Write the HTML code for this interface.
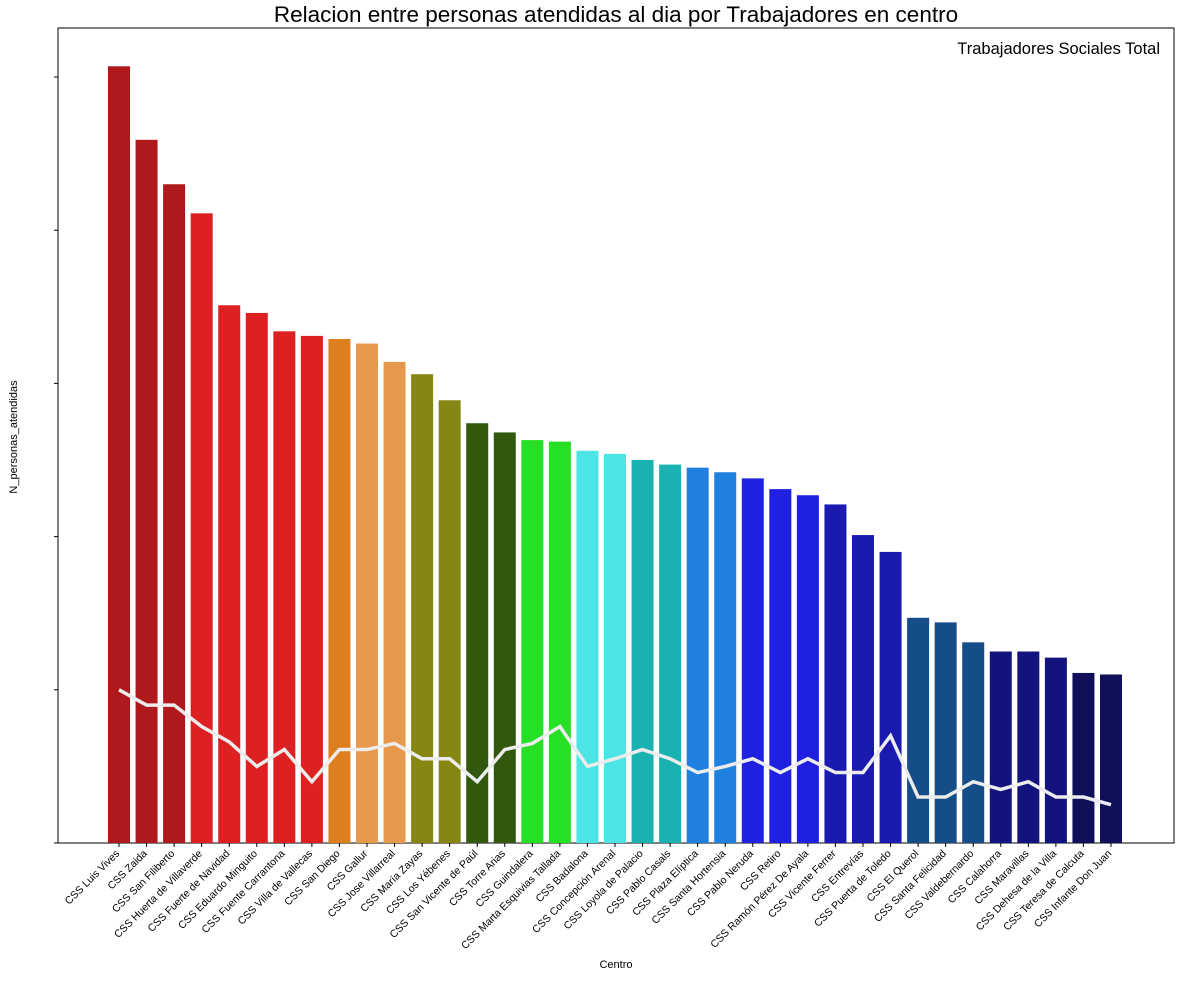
<!DOCTYPE html>
<html><head><meta charset="utf-8"><style>
body{margin:0;background:#fff;font-family:"Liberation Sans",sans-serif}
</style></head><body>
<svg id="chart" width="1180" height="977" xmlns="http://www.w3.org/2000/svg" font-family="Liberation Sans, sans-serif">
<text x="616" y="22" text-anchor="middle" font-size="22.5">Relacion entre personas atendidas al dia por Trabajadores en centro</text>
<rect x="58" y="28" width="1116" height="815" fill="none" stroke="#000" stroke-width="1"/>
<g id="bars"></g><g id="xt"></g><g id="yt"></g>
<text x="1160" y="54" text-anchor="end" font-size="16.5">Trabajadores Sociales Total</text>
<text transform="translate(17,437) rotate(-90)" text-anchor="middle" font-size="11">N_personas_atendidas</text>
<text x="616" y="968" text-anchor="middle" font-size="11">Centro</text>
</svg>
<script>
const categories=["CSS Luis Vives","CSS Zaida","CSS San Filiberto","CSS Huerta de Villaverde","CSS Fuerte de Navidad","CSS Eduardo Minguito","CSS Fuente Carrantona","CSS Villa de Vallecas","CSS San Diego","CSS Gallur","CSS Jose Villarreal","CSS María Zayas","CSS Los Yébenes","CSS San Vicente de Paúl","CSS Torre Arias","CSS Guindalera","CSS Marta Esquivias Tallada","CSS Badalona","CSS Concepción Arenal","CSS Loyola de Palacio","CSS Pablo Casals","CSS Plaza Elíptica","CSS Santa Hortensia","CSS Pablo Neruda","CSS Retiro","CSS Ramón Pérez De Ayala","CSS Vicente Ferrer","CSS Entrevías","CSS Puerta de Toledo","CSS El Querol","CSS Santa Felicidad","CSS Valdebernardo","CSS Calahorra","CSS Maravillas","CSS Dehesa de la Villa","CSS Teresa de Calcuta","CSS Infante Don Juan"];
const personas=[5.07,4.59,4.30,4.11,3.51,3.46,3.34,3.31,3.29,3.26,3.14,3.06,2.89,2.74,2.68,2.63,2.62,2.56,2.54,2.50,2.47,2.45,2.42,2.38,2.31,2.27,2.21,2.01,1.90,1.47,1.44,1.31,1.25,1.25,1.21,1.11,1.10];
const trabajadores=[1.00,0.90,0.90,0.76,0.66,0.50,0.61,0.40,0.61,0.61,0.65,0.55,0.55,0.40,0.61,0.65,0.76,0.50,0.55,0.61,0.55,0.46,0.50,0.55,0.46,0.55,0.46,0.46,0.70,0.30,0.30,0.40,0.35,0.40,0.30,0.30,0.25];
const colors=["#b0191b","#b0191b","#b0191b","#dd2022","#dd2022","#dd2022","#dd2022","#dd2022","#dd7f1f","#e6994c","#e6994c","#868613","#868613","#32580e","#32580e","#26e026","#26e026","#4ce4e4","#4ce4e4","#1ab1b1","#1ab1b1","#1f80e0","#1f80e0","#2020e0","#2020e0","#2020e0","#1a1ab1","#1a1ab1","#1a1ab1","#144d87","#144d87","#144d87","#13137f","#13137f","#13137f","#0f0f5a","#0f0f5a"];
const yTicks=[0,1,2,3,4,5];
const NS="http://www.w3.org/2000/svg";
const x=i=>119+i*(1111-119)/36;
const y=v=>843-v*153.2;
function mk(t,a,p){const e=document.createElementNS(NS,t);for(const k in a)e.setAttribute(k,a[k]);p.appendChild(e);return e;}
const bars=document.getElementById('bars'),xt=document.getElementById('xt'),yt=document.getElementById('yt');
categories.forEach((c,i)=>{
 const r=mk('rect',{x:x(i)-11,y:y(personas[i]),width:22,height:843-y(personas[i]),fill:colors[i]},bars);
 
 
 mk('line',{x1:x(i),x2:x(i),y1:843,y2:847,stroke:'#000'},xt);
 const t=mk('text',{transform:`translate(${x(i)-4},${849}) rotate(-45)`,'text-anchor':'end','font-size':'10.5','dominant-baseline':'hanging'},xt);
 t.textContent=c;
 
 
});
yTicks.forEach(v=>{mk('line',{x1:54,x2:58,y1:y(v),y2:y(v),stroke:'#000'},yt);});
const pl=mk('polyline',{points:trabajadores.map((v,i)=>x(i)+','+y(v)).join(' '),fill:'none',stroke:'#ececec','stroke-width':3.5},bars);


</script>
</body></html>
